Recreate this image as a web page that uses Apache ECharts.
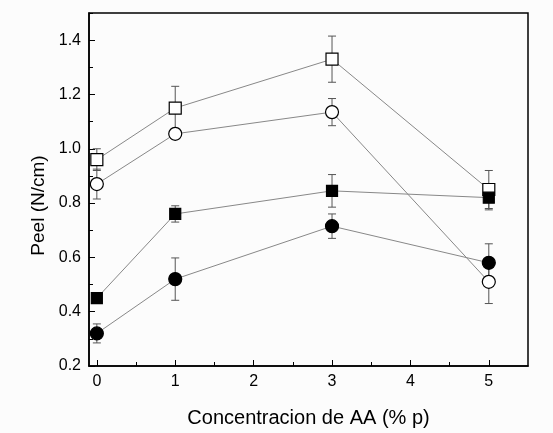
<!DOCTYPE html>
<html>
<head>
<meta charset="utf-8">
<script src="https://cdn.jsdelivr.net/npm/echarts@6/dist/echarts.min.js"></script>
<style>
html,body{margin:0;padding:0;background:#fcfcfc;}
#chart{width:553px;height:433px;}
</style>
</head>
<body>
<div id="chart"></div>
<script>
// concentracion de AA (% p)
var xVals = [0, 1, 3, 5];
// open squares
var openSq = [0.96, 1.15, 1.33, 0.85];
var openSqErr = [0.04, 0.08, 0.085, 0.07];
// open circles
var openCirc = [0.87, 1.055, 1.135, 0.51];
var openCircErr = [0.055, 0.02, 0.05, 0.08];
// filled squares
var fillSq = [0.45, 0.76, 0.845, 0.82];
var fillSqErr = [0.01, 0.03, 0.06, 0.045];
// filled circles
var fillCirc = [0.32, 0.52, 0.715, 0.58];
var fillCircErr = [0.035, 0.078, 0.045, 0.07];

var xTicks = [0, 1, 2, 3, 4, 5];
var xMinor = [0.5, 1.5, 2.5, 3.5, 4.5];
var yTicks = [0.2, 0.4, 0.6, 0.8, 1.0, 1.2, 1.4];
var yMinor = [0.3, 0.5, 0.7, 0.9, 1.1, 1.3, 1.5];

function pairs(ys){
	var out = [];
	for(var i=0;i<xVals.length;i++){
		out.push([xVals[i], ys[i]]);
	}
	return out;
}
function errData(ys, es){
	var out = [];
	for(var i=0;i<xVals.length;i++){
		out.push([xVals[i], ys[i]-es[i], ys[i]+es[i]]);
	}
	return out;
}
function errRender(params, api){
	var lo = api.coord([api.value(0), api.value(1)]);
	var hi = api.coord([api.value(0), api.value(2)]);
	var w = 4;
	var st = {stroke:'#555', lineWidth:1};
	return {
		type:'group',
		children:[
			{type:'line', shape:{x1:lo[0],y1:lo[1],x2:hi[0],y2:hi[1]}, style:st},
			{type:'line', shape:{x1:lo[0]-w,y1:lo[1],x2:lo[0]+w,y2:lo[1]}, style:st},
			{type:'line', shape:{x1:hi[0]-w,y1:hi[1],x2:hi[0]+w,y2:hi[1]}, style:st}
		]
	};
}
function errSeries(ys, es){
	return {type:'custom', renderItem:errRender, data:errData(ys, es), z:1, silent:true,
		encode:{x:0, y:[1,2]}};
}
function lineSeries(ys, symbol, size, fill){
	return {
		type:'line', data:pairs(ys), symbol:symbol, symbolSize:size, z:3,
		lineStyle:{color:'#888', width:1},
		itemStyle:{color:fill, borderColor:'#000', borderWidth:1.2},
		animation:false
	};
}

var labelFont = {fontFamily:'Liberation Sans, Arial, sans-serif', fontSize:16, color:'#000'};

var myChart = echarts.init(document.getElementById('chart'));
var option = {
	backgroundColor:'#fcfcfc',
	animation:false,
	grid:{left:89, top:13, right:25, bottom:66, show:true, borderColor:'#000', borderWidth:1.5, backgroundColor:'transparent'},
	xAxis:[
		{
			type:'value', min:-0.1, max:5.5,
			name:'Concentracion de AA (% p)', nameLocation:'middle', nameGap:42,
			nameTextStyle:{fontFamily:'Liberation Sans, Arial, sans-serif', fontSize:20, color:'#000'},
			axisLine:{onZero:false, lineStyle:{color:'#000', width:1.5}},
			axisTick:{inside:true, length:6, customValues:xTicks, lineStyle:{color:'#000', width:1}},
			axisLabel:Object.assign({margin:8, customValues:xTicks}, labelFont),
			splitLine:{show:false}
		},
		{
			type:'value', min:-0.1, max:5.5, position:'bottom', gridIndex:0,
			axisLine:{show:false, onZero:false},
			axisTick:{inside:true, length:4, customValues:xMinor, lineStyle:{color:'#000', width:1}},
			axisLabel:{show:false},
			splitLine:{show:false}
		}
	],
	yAxis:[
		{
			type:'value', min:0.2, max:1.5,
			name:'Peel (N/cm)', nameLocation:'middle', nameGap:40,
			nameTextStyle:{fontFamily:'Liberation Sans, Arial, sans-serif', fontSize:19, color:'#000', padding:[0, 32, 0, 0]},
			axisLine:{onZero:false, lineStyle:{color:'#000', width:1.5}},
			axisTick:{inside:true, length:6, customValues:yTicks, lineStyle:{color:'#000', width:1}},
			axisLabel:Object.assign({margin:8, customValues:yTicks, formatter:function(v){return v.toFixed(1);}}, labelFont),
			splitLine:{show:false}
		},
		{
			type:'value', min:0.2, max:1.5, position:'left', gridIndex:0,
			axisLine:{show:false, onZero:false},
			axisTick:{inside:true, length:4, customValues:yMinor, lineStyle:{color:'#000', width:1}},
			axisLabel:{show:false},
			splitLine:{show:false}
		}
	],
	series:[
		errSeries(openSq, openSqErr),
		errSeries(openCirc, openCircErr),
		errSeries(fillSq, fillSqErr),
		errSeries(fillCirc, fillCircErr),
		lineSeries(openSq, 'rect', 12, '#fff'),
		lineSeries(openCirc, 'circle', 13, '#fff'),
		lineSeries(fillSq, 'rect', 11, '#000'),
		lineSeries(fillCirc, 'circle', 13, '#000')
	]
};
myChart.setOption(option, true);
</script>
</body>
</html>
